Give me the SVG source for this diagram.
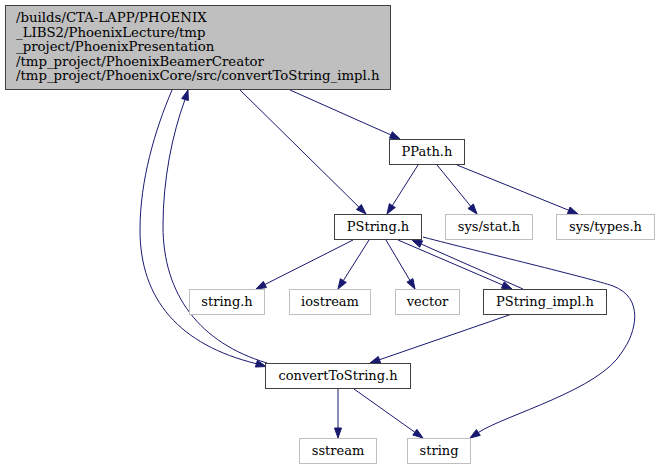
<svg xmlns="http://www.w3.org/2000/svg" width="661" height="469" viewBox="0 0 661 469">
<style>
text{font-family:"DejaVu Serif","Liberation Serif",serif;font-size:13px;fill:#000}
.m text{font-size:13.3px}
.c{text-anchor:middle}
.n rect{fill:#fff;stroke:#404040;stroke-width:1}
.x rect{fill:#fff;stroke:#bfbfbf;stroke-width:1}
.m rect{fill:#bfbfbf;stroke:#404040;stroke-width:1}
#edges path{fill:none;stroke:#191970;stroke-width:1}
#edges polygon{fill:#191970;stroke:#191970;stroke-width:1}
</style>
<rect width="661" height="469" fill="#fff"/>
<g id="edges">
<path d="M290,90 L390.86,134.93"/><polygon points="400,139 389.44,138.13 392.28,131.73"/>
<path d="M240,90 L358.87,206.99"/><polygon points="366,214 356.42,209.48 361.33,204.49"/>
<path d="M172,90 C155,130 140,180 140,230 C140,300 180,345 256.4,363.7"/><polygon points="266,366.5 255.4,367.06 257.4,360.34"/>
<path d="M267,363 C200,343 163,295 163,226 C163,180 172,135 185,99.54"/><polygon points="188,90 188.34,100.59 181.66,98.49"/>
<path d="M418,165 L392.35,205.55"/><polygon points="387,214 389.39,203.68 395.31,207.42"/>
<path d="M437,165 L470.68,206.25"/><polygon points="477,214 467.97,208.47 473.39,204.04"/>
<path d="M457,165 L568.73,210.25"/><polygon points="578,214 567.42,213.49 570.04,207"/>
<path d="M353,240 L264.93,284.49"/><polygon points="256,289 263.35,281.37 266.51,287.61"/>
<path d="M369,240 L343.35,280.55"/><polygon points="338,289 340.39,278.68 346.31,282.42"/>
<path d="M386,240 L409.91,280.39"/><polygon points="415,289 406.9,282.17 412.92,278.61"/>
<path d="M398,240 L502.81,285.05"/><polygon points="512,289 501.43,288.27 504.19,281.83"/>
<path d="M523,289 L421.15,244.04"/><polygon points="412,240 422.56,240.84 419.74,247.24"/>
<path d="M423,237 C480,252 590,278 613,286 C645,298 636,333 622,352 C600,390 505,415 478.35,432.49"/><polygon points="470,438 476.42,429.57 480.28,435.41"/>
<path d="M512,314 L379.45,359.74"/><polygon points="370,363 378.31,356.43 380.59,363.05"/>
<path d="M338,389 L338,428"/><polygon points="338,438 334.5,428 341.5,428"/>
<path d="M354,389 L414.85,432.21"/><polygon points="423,438 412.82,435.06 416.88,429.36"/>
</g>
<g id="main" class="m"><rect x="5.5" y="5.5" width="385" height="84"/>
<text x="16" y="22">/builds/CTA-LAPP/PHOENIX</text>
<text x="16" y="36.5">_LIBS2/PhoenixLecture/tmp</text>
<text x="16" y="51">_project/PhoenixPresentation</text>
<text x="16" y="65.5">/tmp_project/PhoenixBeamerCreator</text>
<text x="16" y="80">/tmp_project/PhoenixCore/src/convertToString_impl.h</text></g>
<g id="ppath" class="n"><rect x="389.5" y="139.5" width="75" height="25"/><text class="c" x="427" y="156">PPath.h</text></g>
<g id="pstring" class="n"><rect x="334.5" y="214.5" width="87" height="25"/><text class="c" x="378" y="231">PString.h</text></g>
<g id="sysstat" class="x"><rect x="445.5" y="214.5" width="87" height="25"/><text class="c" x="489" y="231">sys/stat.h</text></g>
<g id="systypes" class="x"><rect x="556.5" y="214.5" width="98" height="25"/><text class="c" x="605.5" y="231">sys/types.h</text></g>
<g id="stringh" class="x"><rect x="189.5" y="289.5" width="75" height="25"/><text class="c" x="227" y="306">string.h</text></g>
<g id="iostream" class="x"><rect x="289.5" y="289.5" width="81" height="25"/><text class="c" x="330" y="306">iostream</text></g>
<g id="vector" class="x"><rect x="395.5" y="289.5" width="64" height="25"/><text class="c" x="427.5" y="306">vector</text></g>
<g id="pstringimpl" class="n"><rect x="483.5" y="289.5" width="123" height="25"/><text class="c" x="545" y="306">PString_impl.h</text></g>
<g id="converttostring" class="n"><rect x="265.5" y="363.5" width="145" height="25"/><text class="c" x="338" y="380">convertToString.h</text></g>
<g id="sstream" class="x"><rect x="299.5" y="438.5" width="77" height="25"/><text class="c" x="338" y="455">sstream</text></g>
<g id="string" class="x"><rect x="407.5" y="438.5" width="63" height="25"/><text class="c" x="439" y="455">string</text></g>
</svg>
